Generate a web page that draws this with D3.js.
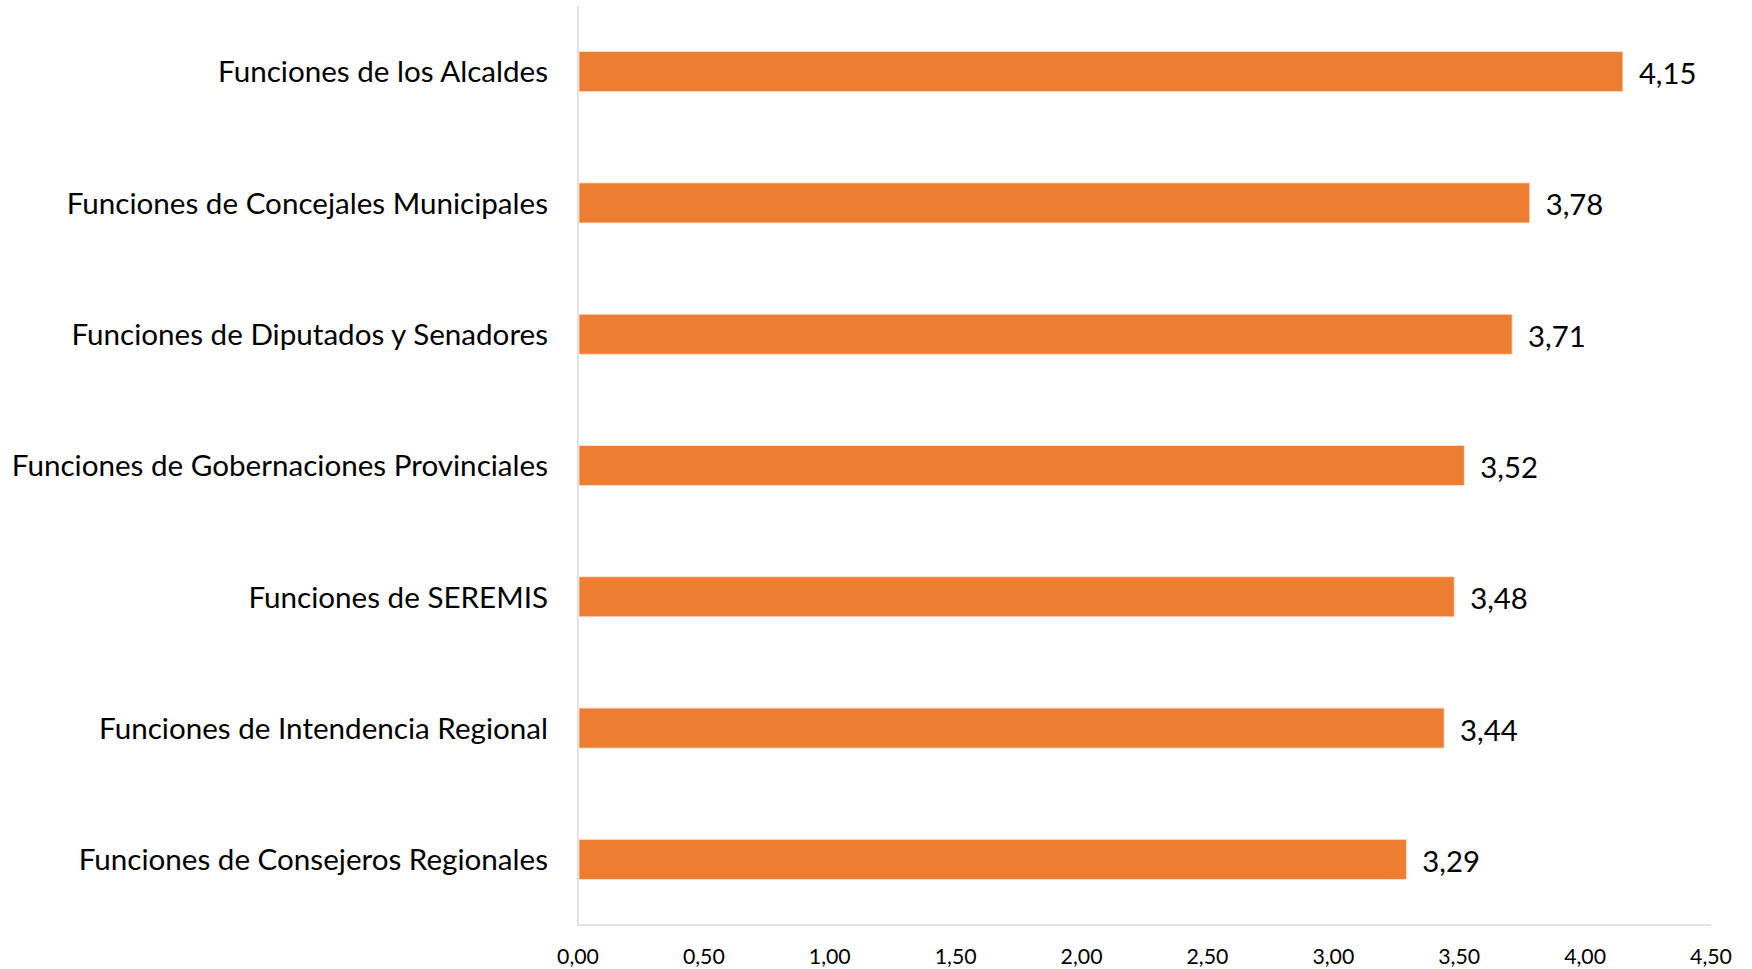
<!DOCTYPE html>
<html>
<head>
<meta charset="utf-8">
<script src="https://cdn.jsdelivr.net/npm/d3@7"></script>
<style>
  body { margin: 0; background: #fff; }
  svg { display: block; font-family: Lato, "Open Sans", sans-serif; }
</style>
</head>
<body>
<svg id="chart"></svg>
<script>
// data (top to bottom)
const categories = [
  "Funciones de los Alcaldes",
  "Funciones de Concejales Municipales",
  "Funciones de Diputados y Senadores",
  "Funciones de Gobernaciones Provinciales",
  "Funciones de SEREMIS",
  "Funciones de Intendencia Regional",
  "Funciones de Consejeros Regionales"
];
const values = [4.15, 3.78, 3.71, 3.52, 3.48, 3.44, 3.29];
const xTicks = [0, 0.5, 1, 1.5, 2, 2.5, 3, 3.5, 4, 4.5];

const width = 1752;
const height = 969;
const margin = { top: 6, right: 41, bottom: 44, left: 578 };
const barColor = '#ED7D31';
const axisColor = '#D9D9D9';

const fmt = (v) => d3.format(".2f")(v).replace(".", ",");

const svg = d3.select("#chart")
  .attr("width", width)
  .attr("height", height);

const x = d3.scaleLinear()
  .domain([0, 4.5])
  .range([margin.left, width - margin.right]);

const y = d3.scaleBand()
  .domain(categories)
  .range([margin.top, height - margin.bottom])
  .paddingInner(0.695)
  .paddingOuter(0.3475);

// axis lines
svg.append("line")
  .attr("x1", x(0)).attr("x2", x(0))
  .attr("y1", margin.top).attr("y2", height - margin.bottom)
  .attr("stroke", axisColor)
  .attr("stroke-width", 1.5);

svg.append("line")
  .attr("x1", x(0)).attr("x2", x(4.5))
  .attr("y1", height - margin.bottom).attr("y2", height - margin.bottom)
  .attr("stroke", axisColor)
  .attr("stroke-width", 1.5);

// bars
svg.append("g")
  .selectAll("rect")
  .data(values)
  .join("rect")
    .attr("x", x(0) + 1)
    .attr("y", (d, i) => y(categories[i]))
    .attr("width", (d) => x(d) - x(0) - 1)
    .attr("height", y.bandwidth())
    .attr("fill", barColor)
    .attr("stroke", "#fbe3d3")
    .attr("stroke-width", 0.8);

// value labels
svg.append("g")
  .selectAll("text")
  .data(values)
  .join("text")
    .attr("x", (d) => x(d) + 16)
    .attr("y", (d, i) => y(categories[i]) + y.bandwidth() / 2 + 2)
    .attr("dy", "0.36em")
    .attr("font-size", 29.3)
    .attr("fill", "#000")
    .text(fmt);

// category labels
svg.append("g")
  .selectAll("text")
  .data(categories)
  .join("text")
    .attr("x", margin.left - 30)
    .attr("y", (d) => y(d) + y.bandwidth() / 2 + 1)
    .attr("dy", "0.33em")
    .attr("text-anchor", "end")
    .attr("font-size", 29.6)
    .attr("fill", "#000")
    .text((d) => d);

// x tick labels
svg.append("g")
  .selectAll("text")
  .data(xTicks)
  .join("text")
    .attr("x", (d) => x(d))
    .attr("y", 964)
    .attr("text-anchor", "middle")
    .attr("font-size", 21.3)
    .attr("fill", "#000")
    .text(fmt);
</script>
</body>
</html>
